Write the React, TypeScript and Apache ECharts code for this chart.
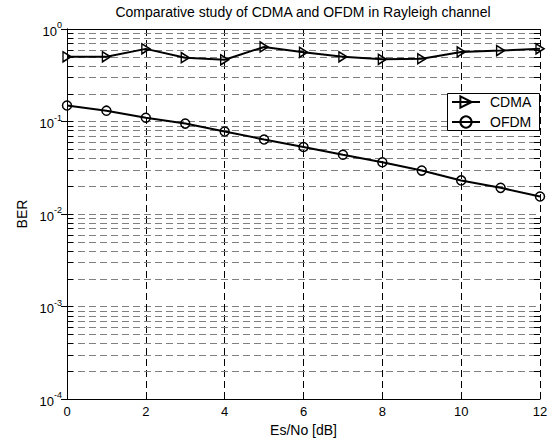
import React, { useEffect, useRef } from "react";
import * as echarts from "echarts";

const snrDb = [0, 1, 2, 3, 4, 5, 6, 7, 8, 9, 10, 11, 12];
const cdmaBer = [0.5, 0.5, 0.61, 0.49, 0.465, 0.64, 0.56, 0.5, 0.47, 0.477, 0.565, 0.585, 0.61];
const ofdmBer = [0.149, 0.131, 0.11, 0.095, 0.078, 0.064, 0.053, 0.0438, 0.0363, 0.0295, 0.0231, 0.0192, 0.0155];
const decades = [1e-4, 1e-3, 1e-2, 1e-1];
const minorMantissas = [2, 3, 4, 5, 6, 7, 8, 9];
const seriesNames = ["CDMA", "OFDM"];
const titleText = "Comparative study of CDMA and OFDM in Rayleigh channel";
const xName = "Es/No [dB]";
const yName = "BER";

const FONT = "'Liberation Sans', Arial, sans-serif";

export default function App() {
  const ref = useRef<HTMLDivElement>(null);
  useEffect(() => {
    document.body.style.margin = "0";
    if (!ref.current) return;
    const chart = echarts.init(ref.current, null, { renderer: "svg" });
    const minorValues: number[][] = [];
    decades.forEach((d) => minorMantissas.forEach((m) => minorValues.push([0, m * d])));
    const xMin = snrDb[0];
    const xMax = snrDb[snrDb.length - 1];

    const yLabel = {
      formatter: (v: number) => `{b|10}{e|${Math.round(Math.log10(v))}}`,
      margin: 5,
      rich: {
        b: { fontSize: 13, fontFamily: FONT, color: "#000", verticalAlign: "bottom" },
        e: { fontSize: 9, fontFamily: FONT, color: "#000", verticalAlign: "bottom", padding: [0, 0, 8, 0] },
      },
    };

    chart.setOption({
      animation: false,
      backgroundColor: "#fff",
      title: {
        text: titleText,
        left: 303,
        top: 5,
        padding: 0,
        textAlign: "center",
        textStyle: { fontSize: 14, fontWeight: "normal", fontFamily: FONT, color: "#000" },
      },
      grid: { left: 67, right: 12, top: 29, bottom: 40 },
      legend: {
        data: seriesNames,
        orient: "vertical",
        left: 451,
        top: 95,
        padding: 0,
        itemWidth: 28,
        itemHeight: 14,
        itemGap: 6,
        z: 6,
        textStyle: { fontSize: 14, fontFamily: FONT, color: "#000", padding: [0, 0, 0, 5] },
      },
      graphic: [
        {
          type: "rect",
          z: 5,
          shape: { x: 447.5, y: 93.5, width: 92, height: 37 },
          style: { fill: "#fff", stroke: "#000", lineWidth: 1 },
        },
      ],
      xAxis: [
        {
          type: "value",
          min: xMin,
          max: xMax,
          interval: 2,
          name: xName,
          nameLocation: "middle",
          nameGap: 22,
          nameTextStyle: { fontSize: 14, fontFamily: FONT, color: "#000" },
          axisLine: { onZero: false, lineStyle: { color: "#000", width: 1 } },
          axisTick: { inside: true, length: 6, lineStyle: { color: "#000" } },
          axisLabel: { fontSize: 13, fontFamily: FONT, color: "#000", margin: 6 },
          splitLine: { show: true, lineStyle: { color: "#000", type: [7, 4], width: 1 } },
        },
        {
          type: "value",
          position: "top",
          min: xMin,
          max: xMax,
          interval: 2,
          axisLine: { onZero: false, lineStyle: { color: "#000", width: 1 } },
          axisTick: { inside: true, length: 6, lineStyle: { color: "#000" } },
          axisLabel: { show: false },
          splitLine: { show: false },
        },
      ],
      yAxis: [
        {
          type: "log",
          logBase: 10,
          min: 1e-4,
          max: 1,
          name: yName,
          nameLocation: "middle",
          nameGap: 38,
          nameTextStyle: { fontSize: 14, fontFamily: FONT, color: "#000" },
          axisLine: { lineStyle: { color: "#000", width: 1 } },
          axisTick: { inside: true, length: 6, lineStyle: { color: "#000" } },
          axisLabel: yLabel,
          splitLine: { show: true, lineStyle: { color: "#808080", type: [7, 4], width: 1 } },
        },
        {
          type: "log",
          logBase: 10,
          min: 1e-4,
          max: 1,
          position: "right",
          axisLine: { lineStyle: { color: "#000", width: 1 } },
          axisTick: { inside: true, length: 6, lineStyle: { color: "#000" } },
          axisLabel: { show: false },
          splitLine: { show: false },
        },
      ],
      series: [
        {
          type: "custom",
          name: "minor",
          silent: true,
          z: 1,
          xAxisIndex: 0,
          yAxisIndex: 0,
          encode: { x: 0, y: 1 },
          data: minorValues,
          renderItem: (params: any, api: any) => {
            const v = api.value(1);
            const p0 = api.coord([xMin, v]);
            const p1 = api.coord([xMax, v]);
            const y = Math.round(p0[1]) + 0.5;
            return {
              type: "group",
              children: [
                {
                  type: "line",
                  shape: { x1: p0[0], y1: y, x2: p1[0], y2: y },
                  style: { stroke: "#808080", lineWidth: 1, lineDash: [7, 4] },
                },
                {
                  type: "line",
                  shape: { x1: p0[0], y1: y, x2: p0[0] + 6, y2: y },
                  style: { stroke: "#000", lineWidth: 1 },
                },
                {
                  type: "line",
                  shape: { x1: p1[0] - 6, y1: y, x2: p1[0], y2: y },
                  style: { stroke: "#000", lineWidth: 1 },
                },
              ],
            };
          },
        },
        {
          type: "line",
          name: seriesNames[0],
          data: snrDb.map((x, i) => [x, cdmaBer[i]]),
          z: 3,
          symbol: "triangle",
          symbolRotate: -90,
          symbolSize: [10, 8],
          showAllSymbol: true,
          lineStyle: { color: "#000", width: 2 },
          itemStyle: { color: "rgba(0,0,0,0)", borderColor: "#000", borderWidth: 1.5 },
        },
        {
          type: "line",
          name: seriesNames[1],
          data: snrDb.map((x, i) => [x, ofdmBer[i]]),
          z: 3,
          symbol: "circle",
          symbolSize: 9,
          showAllSymbol: true,
          lineStyle: { color: "#000", width: 2 },
          itemStyle: { color: "rgba(0,0,0,0)", borderColor: "#000", borderWidth: 1.5 },
        },
      ],
    });
    return () => chart.dispose();
  }, []);
  return <div ref={ref} style={{ width: 552, height: 442 }} />;
}
